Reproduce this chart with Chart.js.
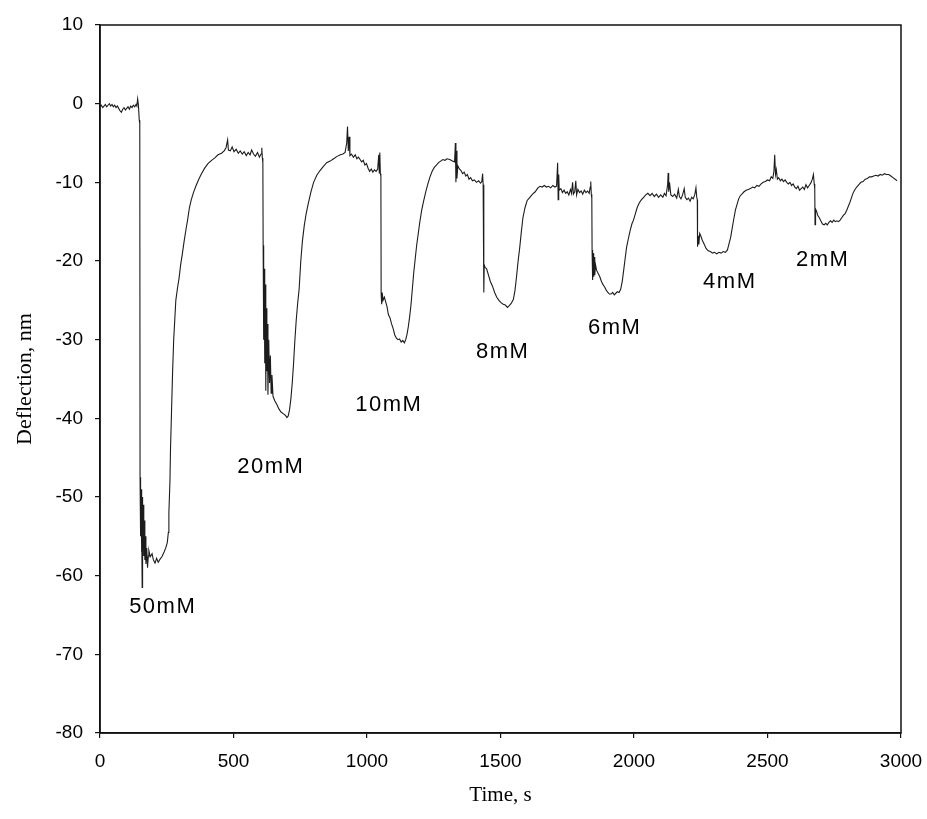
<!DOCTYPE html>
<html>
<head>
<meta charset="utf-8">
<title>Deflection vs time</title>
<script src="https://cdn.jsdelivr.net/npm/chart.js@4/dist/chart.umd.min.js"></script>
<style>
  html, body { margin: 0; padding: 0; background: #ffffff; }
  #wrap { width: 927px; height: 819px; }
</style>
</head>
<body>
<div id="wrap"><canvas id="chart" width="927" height="819"></canvas></div>
<script>
// Time (s) of each recorded sample
const timeS = [
  0, 5, 10, 15, 20, 25, 30, 35, 40, 45, 50, 55, 60, 65, 70, 75, 80, 85, 90, 95,
  100, 105, 110, 115, 120, 125, 130, 135, 138, 141, 144, 147, 149,
  150, 151, 152, 153, 154, 155, 156, 157, 158, 159, 160, 162, 164, 166, 168, 170, 172, 175, 178, 181,
  183, 188, 195, 200, 206, 212, 218, 225, 232, 240, 246, 252, 256,
  258, 262, 264, 268, 272, 276, 280, 284, 290, 296, 302, 308, 315, 322, 328, 335, 342, 350, 360, 370,
  380, 392, 405, 418, 430, 442, 455, 465, 472, 478, 481, 488, 495, 502, 510, 518, 525, 533, 540, 548,
  555, 562, 568, 575, 582, 590, 597, 603, 606,
  608, 610, 611, 612, 613, 614, 615, 617, 619, 621, 623, 625, 627, 629, 632, 635, 638, 641, 644,
  648, 655, 662, 670, 678, 686, 694, 700, 705, 710, 715, 720, 725, 730, 735, 740, 746, 752, 758, 765,
  772, 780, 790, 800, 812, 824, 836, 849, 862, 875, 888, 900, 910, 918, 924, 927, 930, 933, 936, 942,
  949, 956, 962, 968, 974, 980, 986, 992, 998, 1004, 1010, 1016, 1022, 1028, 1034, 1040, 1044, 1046, 1048, 1050,
  1052, 1053, 1055, 1057, 1060, 1065, 1070, 1075, 1080, 1086, 1092, 1098, 1104, 1110, 1116, 1122, 1128, 1134, 1140,
  1145, 1150, 1155, 1160, 1165, 1170, 1175, 1180, 1186, 1192, 1198, 1205, 1212, 1220, 1228, 1236, 1244,
  1252, 1260, 1268, 1276, 1284, 1292, 1300, 1310, 1320, 1328, 1331, 1333, 1335, 1337, 1340, 1346, 1352,
  1358, 1364, 1370, 1376, 1382, 1388, 1395, 1402, 1410, 1418, 1425, 1430, 1433, 1435,
  1437, 1438, 1439, 1442, 1448, 1455, 1462, 1470, 1478, 1486, 1494, 1502, 1510, 1518, 1526, 1532, 1540,
  1548, 1554, 1560, 1566, 1572, 1578, 1584, 1592, 1600, 1610, 1620, 1630, 1640, 1648, 1656, 1664, 1672,
  1680, 1688, 1696, 1704, 1710, 1714, 1716, 1718, 1720, 1726, 1732, 1738, 1744, 1750, 1756, 1762, 1766,
  1770, 1773, 1778, 1782, 1785, 1790, 1796, 1802, 1808, 1814, 1820, 1826, 1832, 1836, 1838, 1840,
  1842, 1843, 1845, 1847, 1849, 1851, 1853, 1856, 1860, 1866, 1872, 1878, 1884, 1890, 1896, 1902, 1908,
  1914, 1920, 1926, 1932, 1938, 1944, 1950, 1956, 1962, 1966, 1972, 1978, 1985, 1992, 1998, 2005, 2012,
  2020, 2028, 2036, 2044, 2052, 2060, 2068, 2076, 2084, 2092, 2100, 2108, 2114, 2120, 2126, 2128, 2130,
  2133, 2138, 2145, 2152, 2160, 2166, 2170, 2176, 2182, 2188, 2192, 2198, 2204, 2210, 2216, 2222, 2228,
  2232, 2235,
  2237, 2238, 2240, 2243, 2246, 2250, 2255, 2262, 2270, 2278, 2286, 2294, 2302, 2310, 2318, 2326, 2334,
  2342, 2350, 2356, 2362, 2368, 2374, 2380, 2386, 2392, 2398, 2404, 2412, 2420, 2428, 2436, 2444, 2452,
  2460, 2468, 2476, 2484, 2492, 2500, 2508, 2514, 2520, 2524, 2527, 2530, 2533, 2537, 2542, 2548, 2554,
  2560, 2566, 2572, 2578, 2584, 2590, 2596, 2602, 2608, 2614, 2620, 2626, 2632, 2638, 2644, 2650, 2656,
  2662, 2668, 2672, 2675, 2677,
  2678, 2680, 2684, 2688, 2694, 2700, 2706, 2712, 2718, 2724, 2730, 2736, 2742, 2748, 2754, 2760, 2766,
  2772, 2778, 2784, 2790, 2796, 2802, 2808, 2814, 2820, 2826, 2834, 2842, 2850, 2858, 2866, 2874, 2882,
  2890, 2898, 2906, 2914, 2922, 2930, 2938, 2946, 2954, 2962, 2970, 2978, 2985
];

// Cantilever deflection (nm) at each sample
const deflectionNm = [
  -0.4, -0.2, -0.5, -0.3, -0.1, -0.4, -0.2, 0.0, -0.3, -0.1, -0.4, -0.2, -0.5, -0.3, -0.6, -0.9, -1.1, -0.7, -0.5, -0.8,
  -0.6, -0.4, -0.7, -0.3, -0.5, -0.2, -0.4, -0.1, -0.3, 0.6, -0.2, -2.1, -2.5,
  -47.5, -52, -48, -55, -49, -57, -50, -54, -61.5, -50, -56, -51, -57.5, -53, -58, -55, -58.5, -56.5, -59, -57.5,
  -56.8, -57.6, -57.2, -58.0, -58.4, -57.8, -58.3, -57.9, -57.6, -57.0, -56.5, -55.8, -54.5,
  -52, -48, -44, -39, -34, -30, -27.5, -25, -23.5, -22.2, -20.5, -19.2, -17.5, -16, -14.8, -13.2, -12.2, -11.3, -10.4, -9.6,
  -8.9, -8.2, -7.6, -7.2, -6.9, -6.5, -6.3, -6.0, -5.6, -4.6, -5.9, -6.0, -5.5, -6.1, -5.8, -6.3, -6.0, -6.4, -6.1, -6.6,
  -6.2, -6.5, -5.9, -6.4, -6.7, -6.2, -6.8, -6.4, -5.6,
  -6.9, -7.5, -18.0, -24, -19, -30, -21, -33, -23, -36.5, -26, -34, -28, -37, -30, -35.5, -32, -36.8, -34.5,
  -37.2, -37.8, -38.2, -38.8, -39.2, -39.4, -39.6, -39.9, -39.7, -38.9, -37.5, -35.5, -33, -30, -27.5, -25.5, -23.5, -20, -17.5, -15.5,
  -14, -12.7, -11.2, -10.0, -9.1, -8.5, -8.0, -7.5, -7.3, -7.0, -6.7, -6.5, -6.4, -6.2, -5.0, -2.9, -6.0, -4.2, -6.6, -6.4,
  -6.8, -6.5, -7.0, -6.8, -7.1, -7.4, -7.2, -7.8, -7.6, -8.2, -8.6, -8.3, -8.7, -8.4, -8.6, -8.3, -6.5, -8.8, -6.2, -8.9,
  -9.2, -24.2, -25.5, -24.0, -25.0, -24.6, -25.2, -25.8, -26.8, -27.2, -28.0, -28.6, -29.4, -29.8, -30.0, -29.9, -30.3, -30.1, -30.4,
  -30.0, -29.3, -28.3, -27.0, -25.5, -23.5, -21.5, -19.9, -18.0, -16.5, -15.0, -13.5, -12.4, -11.2, -10.2, -9.3, -8.6,
  -8.1, -7.8, -7.5, -7.3, -7.1, -7.2, -7.0, -7.1, -7.3, -7.4, -5.0, -10.0, -6.0, -9.5, -7.9, -8.3, -8.5,
  -8.9, -8.7, -9.2, -9.0, -9.6, -9.4, -9.8, -9.7, -10.0, -9.8, -10.1, -9.9, -8.9, -10.3,
  -19.9, -24.0, -20.5, -20.8, -21.0, -21.8, -22.6, -23.2, -24.0, -24.6, -25.0, -25.3, -25.5, -25.6, -25.9, -25.7, -25.4,
  -24.9, -23.8, -22.0, -20.0, -18.3, -16.3, -14.5, -13.2, -12.3, -11.9, -11.5, -11.2, -10.7, -10.5, -10.6, -10.4, -10.6,
  -10.5, -10.7, -10.4, -10.6, -10.5, -7.5, -12.2, -9.0, -11.0, -10.8, -11.3, -11.0, -11.4, -11.2, -11.6, -10.9, -11.4,
  -10.0, -11.5, -11.2, -9.8, -11.6, -10.9, -11.3, -11.1, -11.5, -11.0, -11.3, -11.1, -11.4, -10.6, -9.9, -11.5,
  -12.0, -18.6, -22.4, -19.0, -22.0, -19.5, -21.8, -20.5, -21.2, -21.6, -22.0, -22.6, -23.0, -23.3, -23.7, -24.0, -24.2,
  -24.2, -24.0, -24.3, -24.1, -23.9, -24.0, -23.6, -22.6, -21.0, -19.9, -18.3, -17.3, -16.2, -15.3, -14.8, -14.0, -13.2,
  -12.6, -12.2, -11.9, -11.6, -11.4, -11.7, -11.4, -11.8, -11.5, -11.9, -11.6, -11.9, -11.4, -11.7, -10.3, -8.8, -11.2,
  -10.0, -11.6, -11.8, -11.5, -12.0, -10.9, -11.8, -12.1, -11.6, -10.8, -11.9, -12.2, -12.0, -12.4, -11.9, -12.1, -11.5,
  -10.7, -11.9,
  -12.2, -18.2, -16.8, -17.9, -16.5, -16.8, -17.3, -17.8, -18.4, -18.7, -18.8, -19.0, -18.9, -19.1, -18.9, -19.0, -18.8,
  -18.9, -18.6, -17.8, -17.0, -15.8, -14.6, -13.5, -12.8, -12.1, -11.7, -11.5, -11.2, -11.0, -10.9, -10.8, -10.6, -10.7,
  -10.4, -10.5, -10.2, -10.0, -9.9, -9.7, -9.8, -9.3, -9.5, -8.6, -6.5, -9.0, -8.4, -9.6, -9.4, -9.8, -9.6,
  -9.9, -9.7, -10.0, -10.2, -10.0, -10.4, -10.2, -10.6, -10.8, -10.5, -11.0, -10.8, -10.6, -10.9, -10.3, -10.7, -10.4,
  -10.1, -9.6, -9.0, -10.2, -10.8,
  -15.4, -13.4, -13.7, -14.2, -14.5, -14.9, -15.3, -15.4, -15.2, -15.4, -15.1, -14.9, -15.1, -14.8, -15.0, -14.9, -15.0,
  -14.8, -14.5, -14.2, -14.0, -13.6, -13.1, -12.6, -12.0, -11.4, -11.0, -10.6, -10.3, -10.0, -9.9, -9.6, -9.5, -9.3,
  -9.3, -9.2, -9.1, -9.2, -9.0, -9.1, -8.9, -9.0, -9.0, -9.2, -9.4, -9.6, -9.8
];

// Concentration annotations and where they sit (time, deflection)
const concLabels = ['50mM', '20mM', '10mM', '8mM', '6mM', '4mM', '2mM'];
const concLabelTime = [232, 637, 1079, 1505, 1925, 2356, 2704];
const concLabelDefl = [-64, -46.2, -38.3, -31.5, -28.5, -22.7, -19.9];

// Axis ticks
const xTicks = [0, 500, 1000, 1500, 2000, 2500, 3000];
const yTicks = [10, 0, -10, -20, -30, -40, -50, -60, -70, -80];

const points = timeS.map((t, i) => ({ x: t, y: deflectionNm[i] }));

const SANS = "'Liberation Sans', Arial, Helvetica, sans-serif";
const SERIF = "'Liberation Serif', 'Times New Roman', serif";
const INK = '#111111';

// Box around the plotting area
const frame = {
  id: 'frame',
  afterDraw(chart) {
    const { ctx, chartArea: a } = chart;
    ctx.save();
    ctx.strokeStyle = INK;
    ctx.lineWidth = 1.5;
    ctx.strokeRect(a.left, a.top, a.right - a.left, a.bottom - a.top);
    ctx.restore();
  }
};

// Concentration text next to each dip
const concText = {
  id: 'concText',
  afterDatasetsDraw(chart) {
    const { ctx, scales: { x, y } } = chart;
    ctx.save();
    ctx.fillStyle = '#000';
    ctx.font = "22px " + SANS;
    ctx.textAlign = 'center';
    ctx.textBaseline = 'middle';
    if ('letterSpacing' in ctx) ctx.letterSpacing = '1.5px';
    concLabels.forEach((txt, i) => {
      ctx.fillText(txt, x.getPixelForValue(concLabelTime[i]) + 0.75, y.getPixelForValue(concLabelDefl[i]));
    });
    ctx.restore();
  }
};

new Chart(document.getElementById('chart'), {
  type: 'line',
  data: {
    datasets: [{
      data: points,
      borderColor: '#1c1c1c',
      borderWidth: 1.1,
      pointRadius: 0,
      tension: 0,
      fill: false
    }]
  },
  options: {
    responsive: false,
    animation: false,
    devicePixelRatio: 1,
    layout: { padding: { top: 25, right: 26, left: 0, bottom: 0 } },
    plugins: { legend: { display: false }, tooltip: { enabled: false } },
    scales: {
      x: {
        type: 'linear',
        min: 0,
        max: 3000,
        afterBuildTicks: s => { s.ticks = xTicks.map(v => ({ value: v })); },
        afterFit: s => { s.height = 86; s.paddingLeft = 0; s.paddingRight = 0; },
        ticks: { color: '#000', font: { family: SANS, size: 19 }, padding: 12, maxRotation: 0, callback: v => String(v) },
        grid: { drawOnChartArea: false, drawTicks: true, tickLength: 5, color: INK, lineWidth: 1.2 },
        border: { display: true, color: INK, width: 1.5 },
        title: {
          display: true,
          text: 'Time, s',
          color: '#000',
          font: { family: SERIF, size: 21 },
          padding: { top: 0, bottom: 11 }
        }
      },
      y: {
        type: 'linear',
        min: -80,
        max: 10,
        afterBuildTicks: s => { s.ticks = yTicks.map(v => ({ value: v })); },
        afterFit: s => { s.width = 100; s.paddingTop = 0; s.paddingBottom = 0; },
        ticks: { color: '#000', font: { family: SANS, size: 19 }, padding: 12, callback: v => String(v) },
        grid: { drawOnChartArea: false, drawTicks: true, tickLength: 5, color: INK, lineWidth: 1.2 },
        border: { display: true, color: INK, width: 1.5 },
        title: {
          display: true,
          text: 'Deflection, nm',
          color: '#000',
          font: { family: SERIF, size: 22 },
          padding: { top: 12, bottom: 0 }
        }
      }
    }
  },
  plugins: [frame, concText]
});
</script>
</body>
</html>
